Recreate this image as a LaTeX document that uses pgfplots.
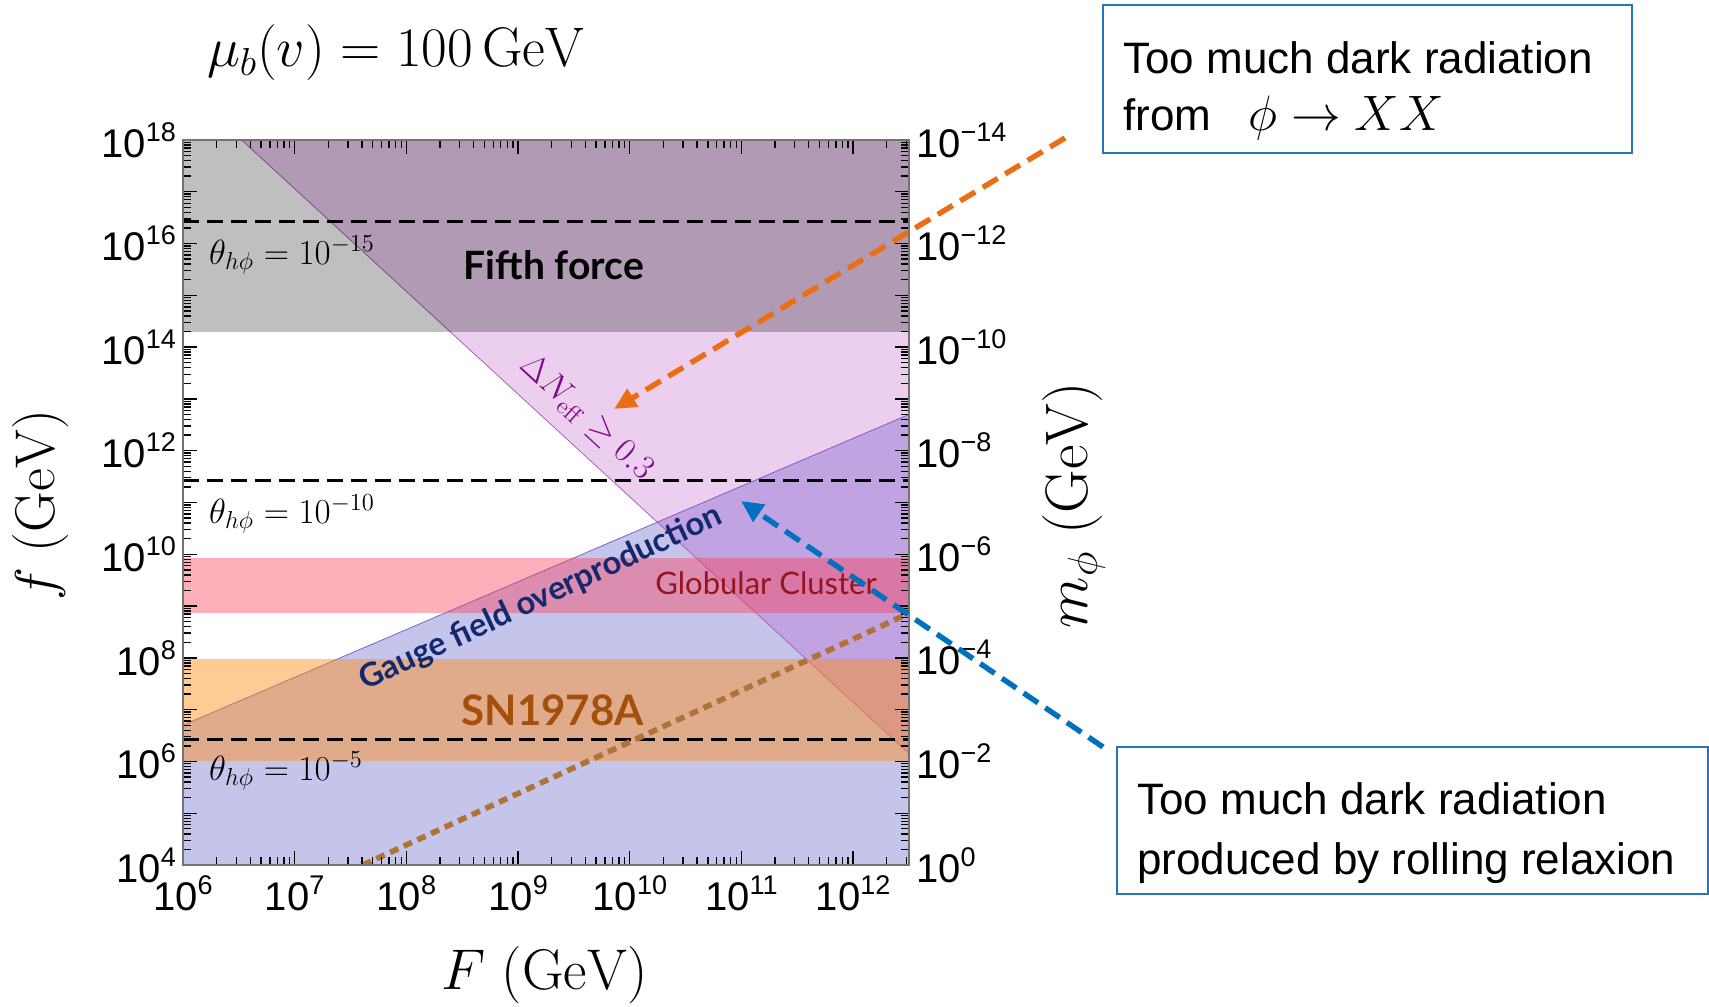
\RequirePackage{fix-cm}
\documentclass[border=0pt]{standalone}
\usepackage[no-math]{fontspec}
\setmainfont{Liberation Sans}
\newfontfamily\lato{Lato}
\usepackage{pgfplots}
\pgfplotsset{compat=1.18}
\usetikzlibrary{arrows.meta}
\definecolor{gfill}{RGB}{90,90,200}
\definecolor{gedge}{RGB}{120,100,200}
\definecolor{pfill}{RGB}{180,60,190}
\definecolor{pedge}{RGB}{170,100,185}
\definecolor{rfill}{RGB}{255,55,80}
\definecolor{ofill}{RGB}{255,140,20}
\definecolor{brownl}{RGB}{175,115,55}
\definecolor{arrowor}{RGB}{235,110,20}
\definecolor{arrowbl}{RGB}{0,112,192}
\definecolor{boxbl}{RGB}{40,115,190}
\definecolor{navyt}{RGB}{20,40,110}
\definecolor{redt}{RGB}{150,20,30}
\definecolor{snt}{RGB}{165,80,10}
\definecolor{purplet}{RGB}{125,10,135}
\newcommand{\tl}[1]{10\raisebox{8pt}{\fontsize{13.5}{15}\selectfont #1}}
\begin{document}
\begin{tikzpicture}
\useasboundingbox (0,0) rectangle (854.5pt,503.5pt);
\begin{axis}[
  at={(91.5pt,71pt)}, anchor=south west,
  scale only axis, width=363pt, height=362.5pt,
  xmode=log, ymode=log,
  xmin=1e6, xmax=3.1623e12, ymin=1e4, ymax=1e18,
  axis on top, clip mode=individual,
  axis line style={black!55, line width=0.8pt},
  tick style={black, line width=0.7pt},
  major tick length=7pt, minor tick length=4pt,
  tick label style={font=\fontsize{20}{24}\selectfont},
  xticklabel style={yshift=-2pt},
  xtick={1e6,1e7,1e8,1e9,1e10,1e11,1e12},
  xticklabels={\tl{6},\tl{7},\tl{8},\tl{9},\tl{10},\tl{11},\tl{12}},
  minor xtick={2e6,3e6,4e6,5e6,6e6,7e6,8e6,9e6,2e7,3e7,4e7,5e7,6e7,7e7,8e7,9e7,2e8,3e8,4e8,5e8,6e8,7e8,8e8,9e8,2e9,3e9,4e9,5e9,6e9,7e9,8e9,9e9,2e10,3e10,4e10,5e10,6e10,7e10,8e10,9e10,2e11,3e11,4e11,5e11,6e11,7e11,8e11,9e11,2e12,3e12},
  ytick={1e4,1e5,1e6,1e7,1e8,1e9,1e10,1e11,1e12,1e13,1e14,1e15,1e16,1e17,1e18},
  yticklabels={\tl{4},,\tl{6},,\tl{8},,\tl{10},,\tl{12},,\tl{14},,\tl{16},,\tl{18}},
  minor ytick={2e4,3e4,4e4,5e4,6e4,7e4,8e4,9e4,2e5,3e5,4e5,5e5,6e5,7e5,8e5,9e5,2e6,3e6,4e6,5e6,6e6,7e6,8e6,9e6,2e7,3e7,4e7,5e7,6e7,7e7,8e7,9e7,2e8,3e8,4e8,5e8,6e8,7e8,8e8,9e8,2e9,3e9,4e9,5e9,6e9,7e9,8e9,9e9,2e10,3e10,4e10,5e10,6e10,7e10,8e10,9e10,2e11,3e11,4e11,5e11,6e11,7e11,8e11,9e11,2e12,3e12,4e12,5e12,6e12,7e12,8e12,9e12,2e13,3e13,4e13,5e13,6e13,7e13,8e13,9e13,2e14,3e14,4e14,5e14,6e14,7e14,8e14,9e14,2e15,3e15,4e15,5e15,6e15,7e15,8e15,9e15,2e16,3e16,4e16,5e16,6e16,7e16,8e16,9e16,2e17,3e17,4e17,5e17,6e17,7e17,8e17,9e17},
]
% Gauge field overproduction
\addplot[fill=gfill, fill opacity=0.35, draw=gedge, line width=0.4pt] coordinates {(1e6,1e4) (1e6,5.0119e6) (3.1623e12,5.0119e12) (3.1623e12,1e4)} -- cycle;
% Delta N_eff
\addplot[fill=pfill, fill opacity=0.25, draw=pedge, line width=0.4pt] coordinates {(3.3497e6,1e18) (3.1623e12,1e18) (3.1623e12,1.4125e6)} -- cycle;
% Globular cluster
\addplot[fill=rfill, fill opacity=0.40, draw=none] coordinates {(1e6,7.413e8) (3.1623e12,7.413e8) (3.1623e12,8.511e9) (1e6,8.511e9)} -- cycle;
% SN1987A
\addplot[fill=ofill, fill opacity=0.45, draw=none] coordinates {(1e6,1e6) (3.1623e12,1e6) (3.1623e12,9.55e7) (1e6,9.55e7)} -- cycle;
% Fifth force
\addplot[fill=black, fill opacity=0.25, draw=none] coordinates {(1e6,2e14) (3.1623e12,2e14) (3.1623e12,1e18) (1e6,1e18)} -- cycle;
% theta lines
\addplot[black, line width=1.5pt, dash pattern=on 8pt off 4pt] coordinates {(1e6,2.63e16) (3.1623e12,2.63e16)};
\addplot[black, line width=1.5pt, dash pattern=on 8pt off 4pt] coordinates {(1e6,2.69e11) (3.1623e12,2.69e11)};
\addplot[black, line width=1.5pt, dash pattern=on 8pt off 4pt] coordinates {(1e6,2.63e6) (3.1623e12,2.63e6)};
% brown dotted
\addplot[brownl, line width=2.8pt, dash pattern=on 4.5pt off 3pt] coordinates {(4.074e7,1e4) (3.1623e12,7.244e8)};
% labels
\node[anchor=base, font={\fontsize{19.5}{22}\selectfont\lato\bfseries}] at (axis cs:2.089e9,2.04e15) {Fifth force};
\node[anchor=base west, font=\fontsize{17.5}{20}\selectfont, inner sep=0pt] at (axis cs:1.70e6,3.98e15) {$\theta_{h\phi}=10^{-15}$};
\node[anchor=base west, font=\fontsize{17.5}{20}\selectfont, inner sep=0pt] at (axis cs:1.70e6,3.98e10) {$\theta_{h\phi}=10^{-10}$};
\node[anchor=base west, font=\fontsize{17.5}{20}\selectfont, inner sep=0pt] at (axis cs:1.70e6,4.37e5) {$\theta_{h\phi}=10^{-5}$};
\node[rotate=-42.6, text=purplet, font=\fontsize{17.3}{20}\selectfont] at (axis cs:4.1e9,4.3e12) {$\Delta N_{\mathrm{eff}}\geq 0.3$};
\node[rotate=25, text=navyt, font={\fontsize{16.3}{20}\selectfont\lato\bfseries}] at (axis cs:1.60e9,1.40e9) {Gauge field overproduction};
\node[anchor=base, text=redt, font={\fontsize{15.5}{18}\selectfont\lato}] at (axis cs:1.66e11,1.70e9) {Globular Cluster};
\node[anchor=base, text=snt, font={\fontsize{21}{24}\selectfont\lato\bfseries}] at (axis cs:2.04e9,5.01e6) {SN1978A};
\end{axis}
\begin{axis}[
  at={(91.5pt,71pt)}, anchor=south west,
  scale only axis, width=363pt, height=362.5pt,
  xmode=log, ymode=log, y dir=reverse,
  xmin=1e6, xmax=3.1623e12, ymin=1e-14, ymax=1,
  hide x axis, axis y line*=right,
  axis line style={draw=none}, major tick length=0pt,
  tick label style={font=\fontsize{20}{24}\selectfont},
  ytick={1e-14,1e-12,1e-10,1e-8,1e-6,1e-4,1e-2,1},
  yticklabels={\tl{−14},\tl{−12},\tl{−10},\tl{−8},\tl{−6},\tl{−4},\tl{−2},\tl{0}},
  minor ytick={},
]
\addplot[draw=none] coordinates {(1e7,1e-5)};
\end{axis}
% titles and axis labels
\node[font=\fontsize{27.9}{33}\selectfont] at (198pt,477pt) {$\mu_b(v) = 100\,\mathrm{GeV}$};
\node[font=\fontsize{28.7}{34}\selectfont] at (272.5pt,16pt) {$F\;(\mathrm{GeV})$};
\node[rotate=90, font=\fontsize{28}{33}\selectfont] at (20.5pt,251pt) {$f\;(\mathrm{GeV})$};
\node[rotate=90, font=\fontsize{30}{35}\selectfont] at (537pt,251pt) {$m_\phi\;(\mathrm{GeV})$};
% arrows
\draw[arrowor, line width=2.7pt, dash pattern=on 8.7pt off 4.4pt, -{Triangle[length=11pt,width=10pt]}] (532.5pt,434.5pt) -- (307pt,299pt);
\draw[arrowbl, line width=2.7pt, dash pattern=on 8.7pt off 4.4pt, -{Triangle[length=11pt,width=10pt]}] (551.5pt,130pt) -- (370.5pt,253pt);
% boxes
\draw[boxbl, line width=1pt, fill=white] (551.5pt,427pt) rectangle (816pt,500.75pt);
\node[anchor=base west, inner sep=0pt, font=\fontsize{22}{26}\selectfont] at (561.5pt,466.5pt) {Too much dark radiation};
\node[anchor=base west, inner sep=0pt, font=\fontsize{22}{26}\selectfont] at (561.5pt,438pt) {from};
\node[anchor=base west, inner sep=0pt, font=\fontsize{24.9}{30}\selectfont] at (624pt,438pt) {$\phi \to XX$};
\draw[boxbl, line width=1pt, fill=white] (558.5pt,56.5pt) rectangle (854pt,130pt);
\node[anchor=base west, inner sep=0pt, font=\fontsize{22}{26}\selectfont] at (568.5pt,96pt) {Too much dark radiation};
\node[anchor=base west, inner sep=0pt, font=\fontsize{22}{26}\selectfont] at (568.5pt,66pt) {produced by rolling relaxion};
\end{tikzpicture}
\end{document}
